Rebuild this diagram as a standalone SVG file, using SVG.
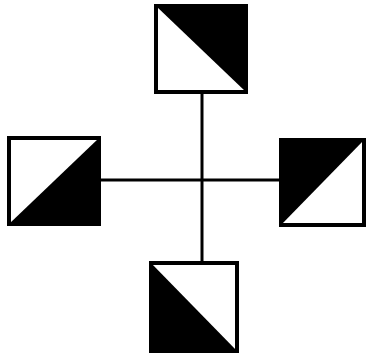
<svg xmlns="http://www.w3.org/2000/svg" width="366" height="354" viewBox="0 0 366 354">
<style>
.box{fill:#fff;stroke:#000;stroke-width:4}
.dark{fill:#000}
.line{stroke:#000;stroke-width:3;fill:none}
</style>
<rect width="366" height="354" fill="#fff"/>
<g id="connectors">
<line class="line" x1="202" y1="92" x2="202" y2="262"/>
<line class="line" x1="100" y1="180" x2="280" y2="180"/>
</g>
<g id="node-top">
<rect class="box" x="156" y="6" width="90" height="86"/>
<polygon class="dark" points="156,6 246,6 246,92"/>
</g>
<g id="node-left">
<rect class="box" x="9" y="138" width="90" height="86"/>
<polygon class="dark" points="99,138 99,224 9,224"/>
</g>
<g id="node-right">
<rect class="box" x="281" y="140" width="83" height="85"/>
<polygon class="dark" points="281,140 364,140 281,225"/>
</g>
<g id="node-bottom">
<rect class="box" x="151" y="263" width="86" height="88"/>
<polygon class="dark" points="151,263 237,351 151,351"/>
</g>
</svg>
